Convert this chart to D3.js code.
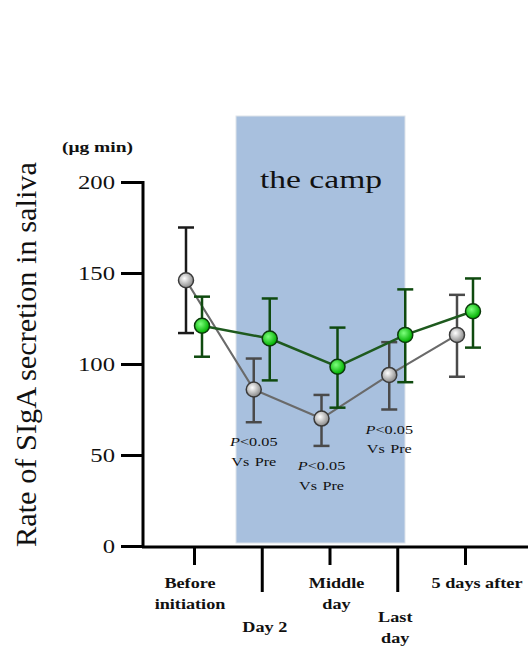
<!DOCTYPE html>
<html>
<head>
<meta charset="utf-8">
<script src="https://cdn.jsdelivr.net/npm/d3@7"></script>
<style>
  body { margin: 0; background: #fff; }
  text { font-family: "Liberation Serif", "Times New Roman", serif; fill: #111; }
</style>
</head>
<body>
<svg id="chart" width="528" height="646"></svg>
<script>
// categories (x axis, two lines each)
var categories = ["Before initiation", "Day 2", "Middle day", "Last day", "5 days after"];
var categoryLines = [["Before", "initiation"], ["Day 2"], ["Middle", "day"], ["Last", "day"], ["5 days after"]];

// grey series (open/grey circles)
var greyMean = [146, 86, 70, 94, 116];
var greyUpper = [175, 103, 83, 112, 138];
var greyLower = [117, 68, 55, 75, 93];

// green series
var greenMean = [121, 114, 98.5, 116, 129];
var greenUpper = [137, 136, 120, 141, 147];
var greenLower = [104, 91, 76, 90, 109];

// y ticks
var yTicks = [0, 50, 100, 150, 200];

// significance notes under grey points
var noteCategories = ["Day 2", "Middle day", "Last day"];

var svg = d3.select('#chart');
var stretch = 1.3; // the picture's text is wide

// scales
var xScale = d3.scalePoint().domain(categories).range([194, 465]);
var yScale = d3.scaleLinear().domain([0, 200]).range([546, 182]);

// defs: gradients for the markers
var defs = svg.append('defs');
function addGradient(id, inner, outer) {
    var g = defs.append('radialGradient').attr('id', id)
        .attr('cx', '40%').attr('cy', '38%').attr('r', '60%');
    g.append('stop').attr('offset', '0%').attr('stop-color', inner);
    g.append('stop').attr('offset', '100%').attr('stop-color', outer);
}
addGradient('greyBall', '#ffffff', '#8e8e8e');
addGradient('greenBall', '#7dff7d', '#00b000');

// the camp band
svg.append('rect')
    .attr('x', 236).attr('y', 116)
    .attr('width', 169).attr('height', 427)
    .attr('fill', '#a8c0de')
    .attr('stroke', '#dde3ea').attr('stroke-width', 1);

svg.append('text')
    .attr('x', 260).attr('y', 188)
    .attr('font-size', 25)
    .attr('textLength', 122).attr('lengthAdjust', 'spacingAndGlyphs')
    .text('the camp');

// y axis
var yAxis = svg.append('g')
    .attr('transform', 'translate(143,0)')
    .call(d3.axisLeft(yScale).tickValues(yTicks).tickSize(22).tickSizeOuter(0));
yAxis.select('.domain').attr('stroke', '#000').attr('stroke-width', 3)
    .attr('d', 'M0,' + (yScale(200) - 1) + 'V' + (yScale(0) + 2));
yAxis.selectAll('.tick line').attr('stroke', '#000').attr('stroke-width', 3);
yAxis.selectAll('.tick text')
    .attr('x', null)
    .attr('transform', 'translate(-28,0) scale(' + stretch + ',1)')
    .attr('font-family', '"Liberation Serif", serif')
    .attr('font-size', 19)
    .attr('fill', '#111');

// x axis
var axisY = 547;
svg.append('line')
    .attr('x1', 142).attr('x2', 528)
    .attr('y1', axisY).attr('y2', axisY)
    .attr('stroke', '#000').attr('stroke-width', 3);

var xAxis = svg.append('g')
    .attr('transform', 'translate(0,' + axisY + ')')
    .call(d3.axisBottom(xScale).tickSize(18).tickSizeOuter(0).tickFormat(''));
xAxis.select('.domain').remove();
xAxis.selectAll('.tick line')
    .attr('stroke', '#000').attr('stroke-width', 3)
    .attr('y2', function(d, i) { return i % 2 == 1 ? 45 : 18; });

// x tick labels
var labelShift = [-4, 3, 7, -2, 12];
var labelTop = [588, 632, 588, 622, 588];
categories.forEach(function(cat, i) {
    var g = svg.append('g')
        .attr('transform', 'translate(' + (xScale(cat) + labelShift[i]) + ',' + labelTop[i] + ') scale(' + stretch + ',1)');
    categoryLines[i].forEach(function(line, j) {
        g.append('text')
            .attr('y', j * 21)
            .attr('text-anchor', 'middle')
            .attr('font-size', 14)
            .attr('font-weight', 'bold')
            .text(line);
    });
});

// y axis titles
svg.append('text')
    .attr('transform', 'translate(36,547) rotate(-90)')
    .attr('font-size', 29)
    .attr('textLength', 385).attr('lengthAdjust', 'spacingAndGlyphs')
    .text('Rate of SIgA secretion in saliva');

svg.append('text')
    .attr('x', 62).attr('y', 152)
    .attr('font-size', 14).attr('font-weight', 'bold')
    .attr('textLength', 71).attr('lengthAdjust', 'spacingAndGlyphs')
    .text('(μg min)');

// one series: line, error bars, markers
function drawSeries(mean, upper, lower, offset, opts) {
    var data = categories.map(function(cat, i) {
        return {cat: cat, mean: mean[i], upper: upper[i], lower: lower[i]};
    });
    var px = function(d) { return xScale(d.cat) + offset; };

    var line = d3.line()
        .x(px)
        .y(function(d) { return yScale(d.mean); });

    var g = svg.append('g');

    var bars = g.selectAll('.err').data(data).enter().append('g')
        .attr('stroke', function(d, i) { return opts.barColor(i); })
        .attr('stroke-width', 2.5);
    bars.append('line')
        .attr('x1', px).attr('x2', px)
        .attr('y1', function(d) { return yScale(d.upper); })
        .attr('y2', function(d) { return yScale(d.lower); });
    bars.append('line')
        .attr('x1', function(d) { return px(d) - 8; }).attr('x2', function(d) { return px(d) + 8; })
        .attr('y1', function(d) { return yScale(d.upper); })
        .attr('y2', function(d) { return yScale(d.upper); });
    bars.append('line')
        .attr('x1', function(d) { return px(d) - 8; }).attr('x2', function(d) { return px(d) + 8; })
        .attr('y1', function(d) { return yScale(d.lower); })
        .attr('y2', function(d) { return yScale(d.lower); });

    g.append('path')
        .datum(data)
        .attr('d', line)
        .attr('fill', 'none')
        .attr('stroke', opts.lineColor)
        .attr('stroke-width', opts.lineWidth);

    g.selectAll('circle').data(data).enter().append('circle')
        .attr('cx', px)
        .attr('cy', function(d) { return yScale(d.mean); })
        .attr('r', 7.5)
        .attr('fill', opts.fill)
        .attr('stroke', opts.outline)
        .attr('stroke-width', 1.5);
}

drawSeries(greyMean, greyUpper, greyLower, -8, {
    lineColor: '#6a6a6a', lineWidth: 2.2,
    barColor: function(i) { return i == 0 ? '#1a1a1a' : '#4a4a4a'; },
    fill: 'url(#greyBall)', outline: '#3a3a3a'
});
drawSeries(greenMean, greenUpper, greenLower, 8, {
    lineColor: '#1e5a1e', lineWidth: 2.5,
    barColor: function(i) { return '#0f4a0f'; },
    fill: 'url(#greenBall)', outline: '#0b3a0b'
});

// P<0.05 Vs Pre notes
noteCategories.forEach(function(cat) {
    var i = categories.indexOf(cat);
    var g = svg.append('g')
        .attr('transform', 'translate(' + (xScale(cat) - 8) + ',' + (yScale(greyLower[i]) + 24) + ') scale(' + stretch + ',1)');
    var t1 = g.append('text').attr('text-anchor', 'middle').attr('font-size', 12.5);
    t1.append('tspan').attr('font-style', 'italic').text('P');
    t1.append('tspan').text('<0.05');
    g.append('text').attr('y', 20).attr('text-anchor', 'middle').attr('font-size', 12.5)
        .attr('word-spacing', 1).text('Vs Pre');
});
</script>
</body>
</html>
